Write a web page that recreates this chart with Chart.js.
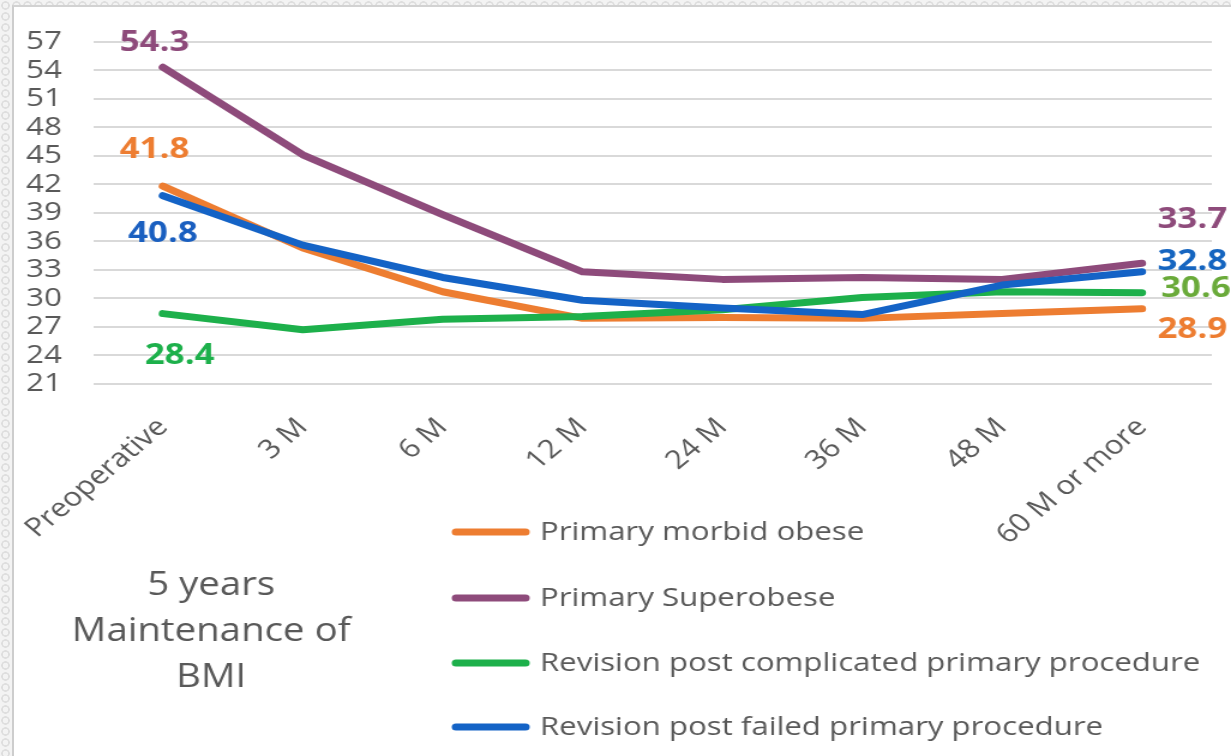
<!DOCTYPE html>
<html>
<head>
<meta charset="utf-8">
<title>5 years Maintenance of BMI</title>
<script src="https://cdn.jsdelivr.net/npm/chart.js@4.4.1/dist/chart.umd.min.js"></script>
<style>
  html, body { margin: 0; padding: 0; width: 1231px; height: 756px; overflow: hidden; }
  body {
    background-color: #f3f3f3;
    background-image: radial-gradient(circle, transparent 2.5px, #dedede 3px, #dedede 4px, transparent 4.6px);
    background-size: 11px 11px;
  }
  #panel {
    position: absolute; left: 12px; top: 5px; right: 0; bottom: 0;
    background: #ffffff;
    border-left: 2px solid #cdcdcd;
    border-top: 2px solid #d2d2d2;
  }
  #chart { position: absolute; left: 0; top: 0; }
</style>
</head>
<body>
<div id="panel"></div>
<!-- the canvas is drawn narrower and widened on screen -->
<canvas id="chart" width="1026" height="756" style="width:1231px;height:756px"></canvas>
<script>
// ---- data ----
const categories = ['Preoperative', '3 M', '6 M', '12 M', '24 M', '36 M', '48 M', '60 M or more'];
const primaryMorbidObese   = [41.8, 35.3, 30.7, 27.9, 28.0, 27.9, 28.4, 28.9];
const primarySuperobese    = [54.3, 45.1, 38.8, 32.8, 32.0, 32.2, 32.0, 33.7];
const revisionComplicated  = [28.4, 26.7, 27.8, 28.1, 28.8, 30.1, 30.7, 30.6];
const revisionFailed       = [40.8, 35.6, 32.2, 29.8, 29.0, 28.3, 31.4, 32.8];
const seriesNames = [
  'Primary morbid obese',
  'Primary Superobese',
  'Revision post complicated primary procedure',
  'Revision post failed primary procedure'
];
const yTickValues = [21, 24, 27, 30, 33, 36, 39, 42, 45, 48, 51, 54, 57];
const titleLines = ['5 years', 'Maintenance of', 'BMI'];

// ---- styling ----
const seriesColors = ['#ED7D31', '#8E4B7B', '#1DB04B', '#1463C6'];
const textGrey = '#595959';
const gridGrey = '#D9D9D9';

// value labels: which series / point, and where the text sits relative to the point
const valueLabelStyles = [
  { series: 1, index: 0, dx: -7,  dy: -25, align: 'center', color: '#8E4B7B' },
  { series: 0, index: 0, dx: -7,  dy: -36, align: 'center', color: '#ED7D31' },
  { series: 3, index: 0, dx: 0,   dy: 38,  align: 'center', color: '#1A5FC0' },
  { series: 2, index: 0, dx: 14,  dy: 42,  align: 'center', color: '#1DB04B' },
  { series: 1, index: 7, dx: 13,  dy: -43, align: 'left',   color: '#8E4B7B' },
  { series: 3, index: 7, dx: 13,  dy: -10, align: 'left',   color: '#1565C0' },
  { series: 2, index: 7, dx: 16,  dy: -4,  align: 'left',   color: '#6AAA3A' },
  { series: 0, index: 7, dx: 13,  dy: 21,  align: 'left',   color: '#ED7D31' }
];

const legendLayout = { x1: 380, x2: 438, textX: 450, rows: [532, 598, 663, 727] };
const titleLayout = { x: 176, rows: [586, 632, 678] };

// draws the value labels, the legend block and the caption
const annotationPlugin = {
  id: 'annotations',
  afterDatasetsDraw(chart) {
    const ctx = chart.ctx;
    ctx.save();
    ctx.font = 'bold 29px "Open Sans"';
    ctx.textBaseline = 'middle';
    valueLabelStyles.forEach(l => {
      const meta = chart.getDatasetMeta(l.series);
      const pt = meta.data[l.index];
      const value = chart.data.datasets[l.series].data[l.index];
      ctx.fillStyle = l.color;
      ctx.textAlign = l.align;
      ctx.fillText(value.toFixed(1), pt.x + l.dx, pt.y + l.dy);
    });
    ctx.restore();
  },
  afterDraw(chart) {
    const ctx = chart.ctx;
    ctx.save();
    // legend
    chart.data.datasets.forEach((ds, i) => {
      const y = legendLayout.rows[i];
      ctx.strokeStyle = ds.borderColor;
      ctx.lineWidth = 7;
      ctx.lineCap = 'round';
      ctx.beginPath();
      ctx.moveTo(legendLayout.x1, y);
      ctx.lineTo(legendLayout.x2, y);
      ctx.stroke();
      ctx.fillStyle = textGrey;
      ctx.font = '26px "Open Sans"';
      ctx.textAlign = 'left';
      ctx.textBaseline = 'middle';
      ctx.fillText(ds.label, legendLayout.textX, y + 1);
    });
    // caption
    ctx.fillStyle = textGrey;
    ctx.font = '32px "Open Sans"';
    ctx.textAlign = 'center';
    ctx.textBaseline = 'middle';
    titleLines.forEach((t, i) => ctx.fillText(t, titleLayout.x, titleLayout.rows[i]));
    ctx.restore();
  }
};

const seriesData = [primaryMorbidObese, primarySuperobese, revisionComplicated, revisionFailed];

new Chart(document.getElementById('chart'), {
  type: 'line',
  data: {
    labels: categories,
    datasets: seriesData.map((values, i) => ({
      label: seriesNames[i],
      data: values,
      borderColor: seriesColors[i],
      backgroundColor: seriesColors[i],
      borderWidth: 7,
      borderCapStyle: 'round',
      borderJoinStyle: 'round',
      pointRadius: 0,
      tension: 0,
      fill: false,
      order: 4 - i
    }))
  },
  options: {
    responsive: false,
    animation: false,
    layout: { padding: { top: 35, right: 16, left: 0, bottom: 0 } },
    plugins: {
      legend: { display: false },
      title: { display: false },
      tooltip: { enabled: false }
    },
    scales: {
      x: {
        offset: true,
        grid: { display: false, drawTicks: false },
        border: { display: false },
        ticks: {
          color: textGrey,
          font: { family: 'Open Sans', size: 26 },
          minRotation: 45,
          maxRotation: 45,
          padding: 28,
          autoSkip: false
        },
        afterFit(scale) {
          scale.height = 372;
          // rotated labels may overhang the plot edges freely
          scale.paddingLeft = 0;
          scale.paddingRight = 0;
        }
      },
      y: {
        min: 21,
        max: 57,
        grid: { color: gridGrey, lineWidth: 2, drawTicks: false },
        border: { display: false },
        afterBuildTicks(scale) { scale.ticks = yTickValues.map(v => ({ value: v })); },
        ticks: {
          color: textGrey,
          font: { family: 'Open Sans', size: 26 },
          padding: 26,
          autoSkip: false
        },
        afterFit(scale) { scale.width = 77.5; }
      }
    }
  },
  plugins: [annotationPlugin]
});
</script>
</body>
</html>
